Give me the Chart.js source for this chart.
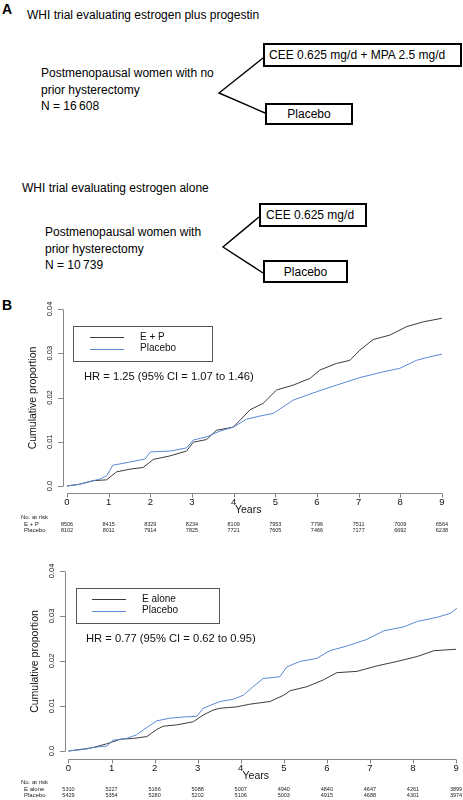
<!DOCTYPE html>
<html lang="en">
<head>
<meta charset="UTF-8">
<title>WHI trials</title>
<script src="https://cdn.jsdelivr.net/npm/chart.js"></script>
<style>
  body { margin:0; width:463px; height:800px; position:relative; background:#fff; overflow:hidden;
         font-family:"Liberation Sans", Arial, sans-serif; color:#000; }
  .t { position:absolute; font-size:12px; line-height:16.5px; white-space:nowrap; }
  .box { position:absolute; border:2px solid #000; box-sizing:border-box; font-size:12px;
         display:flex; align-items:center; white-space:nowrap; }
  .lab { position:absolute; font-weight:bold; font-size:14px; }
  canvas { position:absolute; left:0; }
</style>
</head>
<body>
  <!-- panel A: trial design -->
  <div class="lab" style="left:2px; top:1px;">A</div>
  <div class="t" style="left:27px; top:7px;">WHI trial evaluating estrogen plus progestin</div>
  <div class="t" style="left:41px; top:65px;">Postmenopausal women with no<br>prior hysterectomy<br>N = 16&#8201;608</div>
  <div class="box" style="left:263px; top:43px; width:199px; height:24px; padding-left:4px;">CEE 0.625 mg/d + MPA 2.5 mg/d</div>
  <div class="box" style="left:265px; top:103px; width:88px; height:22px; justify-content:center;">Placebo</div>

  <div class="t" style="left:22px; top:180px;">WHI trial evaluating estrogen alone</div>
  <div class="t" style="left:45px; top:224px;">Postmenopausal women with<br>prior hysterectomy<br>N = 10&#8201;739</div>
  <div class="box" style="left:259px; top:203px; width:108px; height:24px; padding-left:5px;">CEE 0.625 mg/d</div>
  <div class="box" style="left:263px; top:260px; width:85px; height:23px; justify-content:center;">Placebo</div>

  <svg width="463" height="300" style="position:absolute; left:0; top:0;">
    <g stroke="#000" stroke-width="1.4" fill="none">
      <polyline points="263,58 219,93 265,113"/>
      <polyline points="259,217 223,247 263,273"/>
    </g>
  </svg>

  <div class="lab" style="left:2px; top:297px;">B</div>
  <canvas id="km1" width="463" height="240" style="top:295px;"></canvas>
  <canvas id="km2" width="463" height="243" style="top:557px;"></canvas>

<script>
// ---- data ----
const years = [0, 1, 2, 3, 4, 5, 6, 7, 8, 9];
const yTicks = [0, 0.01, 0.02, 0.03, 0.04];
const yTickLabels = ['0.0', '0.01', '0.02', '0.03', '0.04'];

// estrogen plus progestin trial
const epTime = [0, 0.3, 0.63, 0.95, 1.19, 1.51, 1.83, 2.07, 2.47, 2.87, 3.03, 3.35, 3.59, 3.99, 4.23, 4.39, 4.71, 5.03, 5.43, 5.83, 6.07, 6.47, 6.79, 7.03, 7.35, 7.75, 8.15, 8.55, 9.0];
const epCum  = [0, 0.0004, 0.0012, 0.0014, 0.0032, 0.0038, 0.0042, 0.006, 0.0068, 0.0079, 0.0099, 0.0105, 0.0126, 0.0133, 0.0156, 0.0172, 0.0187, 0.0217, 0.0228, 0.0243, 0.0262, 0.0277, 0.0284, 0.0307, 0.0331, 0.0341, 0.036, 0.0371, 0.0379];
const pl1Time = [0, 0.3, 0.63, 0.8, 0.95, 1.1, 1.5, 1.87, 2.0, 2.47, 2.87, 3.03, 3.35, 3.67, 3.99, 4.31, 4.63, 4.95, 5.43, 5.99, 6.47, 7.03, 7.59, 7.99, 8.39, 8.71, 9.0];
const pl1Cum  = [0, 0.0004, 0.0012, 0.0016, 0.0023, 0.0047, 0.0054, 0.0061, 0.0077, 0.0079, 0.0086, 0.0104, 0.0111, 0.0124, 0.0133, 0.0151, 0.0158, 0.0164, 0.0194, 0.0213, 0.0228, 0.0245, 0.0258, 0.0266, 0.0284, 0.0292, 0.0298];
const epRisk  = ['8506', '8415', '8329', '8234', '8109', '7953', '7796', '7511', '7009', '6564'];
const pl1Risk = ['8102', '8011', '7914', '7825', '7721', '7605', '7466', '7177', '6692', '6238'];

// estrogen alone trial
const eTime = [0, 0.4, 0.58, 0.89, 1.2, 1.51, 1.82, 2.05, 2.2, 2.51, 2.9, 3.13, 3.36, 3.52, 3.9, 4.21, 4.68, 5.0, 5.15, 5.54, 5.92, 6.23, 6.7, 7.16, 7.63, 8.1, 8.49, 9.0];
const eCum  = [0, 0.0005, 0.0008, 0.0016, 0.0026, 0.0028, 0.0032, 0.0048, 0.0055, 0.0058, 0.0065, 0.008, 0.0091, 0.0095, 0.0098, 0.0104, 0.011, 0.0124, 0.0134, 0.0143, 0.0158, 0.0174, 0.0177, 0.0189, 0.0199, 0.021, 0.0223, 0.0226];
const pl2Time = [0, 0.4, 0.58, 0.89, 1.04, 1.35, 1.58, 1.74, 2.05, 2.36, 2.74, 2.98, 3.13, 3.52, 3.83, 4.06, 4.29, 4.52, 4.91, 5.07, 5.38, 5.77, 6.07, 6.46, 6.93, 7.32, 7.79, 8.1, 8.56, 8.87, 9.02];
const pl2Cum  = [0, 0.0004, 0.0008, 0.0011, 0.0024, 0.0028, 0.0036, 0.0047, 0.0067, 0.0073, 0.0076, 0.0077, 0.0095, 0.011, 0.0115, 0.0124, 0.0143, 0.0161, 0.0165, 0.0187, 0.0199, 0.0206, 0.0223, 0.0233, 0.0248, 0.0267, 0.0276, 0.0288, 0.0297, 0.0306, 0.0317];
const eRisk   = ['5310', '5227', '5166', '5088', '5007', '4940', '4840', '4647', '4261', '3899'];
const pl2Risk = ['5429', '5354', '5280', '5202', '5106', '5003', '4915', '4688', '4301', '3974'];

const DARK = '#3c3c3c';
const BLUE = '#5b88d6';
const FONT = '"Liberation Sans", Arial, sans-serif';

const pts = (t, v) => t.map((x, i) => ({ x: x, y: v[i] }));

// R-style axes, legend, HR note and number-at-risk table
const kmFrame = {
  id: 'kmFrame',
  afterDraw(chart, args, o) {
    const { ctx, chartArea: a, scales: { x, y } } = chart;
    ctx.save();
    ctx.strokeStyle = '#858585';
    ctx.lineWidth = 1;
    ctx.beginPath();
    const yb = Math.round(y.getPixelForValue(yTicks[0])) + 0.5;
    const yt = Math.round(y.getPixelForValue(yTicks[yTicks.length - 1])) + 0.5;
    ctx.moveTo(a.left + 0.5, yb); ctx.lineTo(a.left + 0.5, yt);
    yTicks.forEach(v => {
      const p = Math.round(y.getPixelForValue(v)) + 0.5;
      ctx.moveTo(a.left, p); ctx.lineTo(a.left - 5, p);
    });
    const xb = a.bottom + 0.5;
    ctx.moveTo(x.getPixelForValue(years[0]), xb); ctx.lineTo(x.getPixelForValue(years[years.length - 1]), xb);
    years.forEach(v => {
      const p = Math.round(x.getPixelForValue(v)) + 0.5;
      ctx.moveTo(p, xb); ctx.lineTo(p, xb + 4);
    });
    ctx.stroke();

    ctx.fillStyle = '#111';
    ctx.textAlign = 'center';
    ctx.textBaseline = 'middle';
    // y tick labels, rotated
    ctx.font = '7.5px ' + FONT;
    yTicks.forEach((v, i) => {
      ctx.save();
      ctx.translate(a.left - 13, y.getPixelForValue(v));
      ctx.rotate(-Math.PI / 2);
      ctx.fillText(yTickLabels[i], 0, 0);
      ctx.restore();
    });
    // y title
    ctx.save();
    ctx.font = '10.5px ' + FONT;
    ctx.translate(a.left - 30, (yb + yt) / 2);
    ctx.rotate(-Math.PI / 2);
    ctx.fillText('Cumulative proportion', 0, 0);
    ctx.restore();
    // x tick labels and title
    ctx.font = '9.5px ' + FONT;
    years.forEach(v => ctx.fillText(String(v), x.getPixelForValue(v), a.bottom + 9));
    ctx.font = '10.5px ' + FONT;
    ctx.fillText('Years', x.getPixelForValue(4.35), a.bottom + 17);

    // legend box
    const L = o.box;
    ctx.strokeStyle = '#555';
    ctx.strokeRect(a.left + L.x + 0.5, a.top + L.y + 0.5, L.w, L.h);
    ctx.textAlign = 'left';
    ctx.font = '10px ' + FONT;
    o.legend.forEach((item, i) => {
      const ly = a.top + 28 + i * 11.5;
      ctx.strokeStyle = item.color;
      ctx.beginPath();
      ctx.moveTo(a.left + 27, Math.round(ly) + 0.5); ctx.lineTo(a.left + 61, Math.round(ly) + 0.5);
      ctx.stroke();
      ctx.fillStyle = '#111';
      ctx.fillText(item.text, a.left + 77, ly);
    });
    ctx.font = '11.2px ' + FONT;
    ctx.fillText(o.hr, a.left + 21, a.top + 68);

    // number at risk
    ctx.fillStyle = '#222';
    ctx.font = '6px ' + FONT;
    ctx.fillText('No. at risk', 21, o.tableY);
    o.rows.forEach((r, i) => {
      const ry = o.tableY + 7 + i * 6.5;
      ctx.textAlign = 'left';
      ctx.font = '6px ' + FONT;
      ctx.fillText(r.label, 24, ry);
      ctx.textAlign = 'center';
      ctx.font = '5.5px ' + FONT;
      r.values.forEach((n, k) => ctx.fillText(n, x.getPixelForValue(years[k]), ry));
    });
    ctx.restore();
  }
};

function kmChart(id, sets, pad, xr, yMin, frame) {
  return new Chart(document.getElementById(id), {
    type: 'line',
    data: {
      datasets: sets.map(s => ({
        data: s.data, borderColor: s.color, borderWidth: 1,
        pointRadius: 0, tension: 0, fill: false
      }))
    },
    options: {
      responsive: false,
      animation: false,
      devicePixelRatio: 1,
      layout: { padding: pad },
      scales: {
        x: { type: 'linear', display: false, min: xr[0], max: xr[1] },
        y: { type: 'linear', display: false, min: yMin, max: 0.04 }
      },
      plugins: {
        legend: { display: false },
        tooltip: { enabled: false },
        kmFrame: frame
      }
    },
    plugins: [kmFrame]
  });
}

kmChart('km1',
  [{ data: pts(pl1Time, pl1Cum), color: BLUE }, { data: pts(epTime, epCum), color: DARK }],
  { left: 63, right: 19, top: 14, bottom: 42 }, [-0.096, 9.05], -0.00158,
  {
    box: { x: 10, y: 17, w: 139, h: 35 },
    legend: [{ text: 'E + P', color: DARK }, { text: 'Placebo', color: BLUE }],
    hr: 'HR = 1.25 (95% CI = 1.07 to 1.46)',
    tableY: 222,
    rows: [{ label: 'E + P', values: epRisk }, { label: 'Placebo', values: pl1Risk }]
  });

kmChart('km2',
  [{ data: pts(pl2Time, pl2Cum), color: BLUE }, { data: pts(eTime, eCum), color: DARK }],
  { left: 65, right: 5, top: 14, bottom: 41 }, [-0.081, 9.046], -0.00178,
  {
    box: { x: 11, y: 17, w: 143, h: 35 },
    legend: [{ text: 'E alone', color: DARK }, { text: 'Placebo', color: BLUE }],
    hr: 'HR = 0.77 (95% CI = 0.62 to 0.95)',
    tableY: 225,
    rows: [{ label: 'E alone', values: eRisk }, { label: 'Placebo', values: pl2Risk }]
  });
</script>
</body>
</html>
